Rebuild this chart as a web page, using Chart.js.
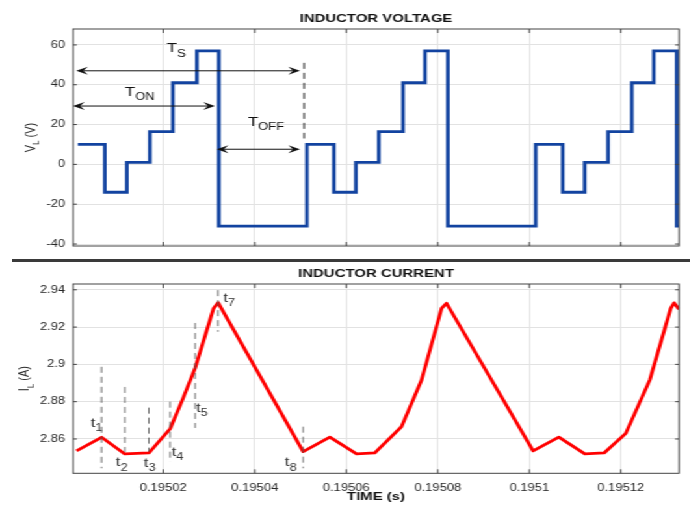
<!DOCTYPE html>
<html>
<head>
<meta charset="utf-8">
<script src="https://cdn.jsdelivr.net/npm/chart.js@4.4.0/dist/chart.umd.min.js"></script>
<style>
  body { margin: 0; background: #fff; width: 690px; height: 510px; overflow: hidden; position: relative; }
  /* the reference is stretched sideways, so the charts are drawn narrow and widened */
  #wrap { position: absolute; left: 0; top: 0; width: 531px; height: 510px; transform: scaleX(1.3); transform-origin: 0 0; }
  #topBox { position: absolute; left: 0; top: 0; width: 531px; height: 258px; }
  #botBox { position: absolute; left: 0; top: 262px; width: 531px; height: 248px; }
  #sep { position: absolute; left: 12px; top: 259px; width: 678px; height: 3px; background: #3a3a3a; }
</style>
</head>
<body>
<div id="wrap">
  <div id="topBox"><canvas id="vChart"></canvas></div>
  <div id="botBox"><canvas id="iChart"></canvas></div>
</div>
<div id="sep"></div>
<script>
// axis ticks
const timeTicks = [0.19502, 0.19504, 0.19506, 0.19508, 0.1951, 0.19512];
const voltTicks = [-40, -20, 0, 20, 40, 60];
const currTicks = [2.86, 2.88, 2.9, 2.92, 2.94];
const timeMin = 0.1950003, timeMax = 0.1951327;

// inductor voltage, each level holds until the next time
const vTime = [0.19500135, 0.19500725, 0.19501206, 0.19501709, 0.19502211, 0.19502735, 0.19503216,
               0.1950514, 0.1950573, 0.1950621, 0.1950671, 0.1950724, 0.1950772, 0.1950822,
               0.1951014, 0.1951073, 0.1951121, 0.1951172, 0.1951224, 0.1951272, 0.1951322, 0.1951327];
const vLevel = [10, -14, 1, 16.5, 41, 57, -31,
                10, -14, 1, 16.5, 41, 57, -31,
                10, -14, 1, 16.5, 41, 57, -31, -31];

// inductor current
const iTime = [0.19500107, 0.19500653, 0.19501162, 0.19501687, 0.19502152, 0.1950242, 0.19502698, 0.195031, 0.195032,
               0.19505058, 0.19505641, 0.19506225, 0.19506624, 0.19507208, 0.19507645, 0.19508082, 0.1950819,
               0.19510083, 0.19510645, 0.19511213, 0.19511634, 0.19512108, 0.19512633, 0.1951309, 0.19513164, 0.1951327];
const iAmp = [2.8536, 2.8609, 2.852, 2.8525, 2.8655, 2.881, 2.898, 2.93, 2.9331,
              2.8532, 2.861, 2.852, 2.8525, 2.8666, 2.8916, 2.93, 2.9328,
              2.8536, 2.861, 2.852, 2.8525, 2.863, 2.8917, 2.93, 2.933, 2.9295];

// period arrows on the voltage plot: start, end, level
const tsArrow = [0.195001, 0.1950499, 47];
const tonArrow = [0.1950003, 0.1950313, 29.3];
const toffArrow = [0.1950317, 0.1950499, 7.6];
const tsDash = [0.1950508, 13, 51];
const periodNames = [['T', 'S'], ['T', 'ON'], ['T', 'OFF']];
const periodLabelTime = [0.1950208, 0.1950116, 0.1950385];
const periodLabelVolt = [56.2, 34.3, 19.4];

// instants marked on the current plot
const markNames = ['1', '2', '3', '4', '5', '7', '8'];
const markTime = [0.19500653, 0.19501162, 0.19501687, 0.19502152, 0.19502698, 0.195032, 0.19505058];
const markTop = [2.8987, 2.8879, 2.8768, 2.88, 2.9222, 2.9398, 2.8666];
const markBottom = [2.8443, 2.853, 2.8532, 2.8478, 2.8659, 2.9175, 2.8443];
const markLabelTime = [0.19500413, 0.19500966, 0.19501577, 0.19502183, 0.19502714, 0.1950331, 0.19504658];
const markLabelAmp = [2.8664, 2.8453, 2.845, 2.8509, 2.8747, 2.9337, 2.8453];

const FONT = '"Liberation Sans", Arial, sans-serif';
Chart.defaults.font.family = FONT;

function fmt(v) { return String(+v.toFixed(5)); }

function drawSub(ctx, x, y, main, sub, rest, size, color, align) {
  const big = size + 'px ' + FONT;
  const small = Math.round(size * 0.76) + 'px ' + FONT;
  ctx.font = big;
  const w1 = ctx.measureText(main).width;
  const w3 = rest ? ctx.measureText(rest).width : 0;
  ctx.font = small;
  const w2 = ctx.measureText(sub).width;
  const left = align === 'center' ? x - (w1 + w2 + w3) / 2 : x;
  ctx.fillStyle = color;
  ctx.textAlign = 'left';
  ctx.textBaseline = 'alphabetic';
  ctx.font = big;
  ctx.fillText(main, left, y);
  ctx.font = small;
  ctx.fillText(sub, left + w1, y + size * 0.33);
  if (rest) {
    ctx.font = big;
    ctx.fillText(rest, left + w1 + w2, y);
  }
}

function arrowHead(ctx, x, y, dir) {
  const L = 9, H = 4;
  ctx.beginPath();
  ctx.moveTo(x, y);
  ctx.lineTo(x - dir * L, y - H);
  ctx.lineTo(x - dir * L * 0.6, y);
  ctx.lineTo(x - dir * L, y + H);
  ctx.closePath();
  ctx.fill();
}

// box round the plot with inward ticks, the title over the plot and the rotated y title
const matlabBox = {
  id: 'matlabBox',
  afterDraw(chart, args, opts) {
    const {ctx, chartArea: a, scales} = chart;
    ctx.save();
    ctx.strokeStyle = '#444';
    ctx.lineWidth = 1;
    ctx.strokeRect(a.left, a.top, a.right - a.left, a.bottom - a.top);
    ctx.beginPath();
    scales.x.ticks.forEach(t => {
      const px = scales.x.getPixelForValue(t.value);
      ctx.moveTo(px, a.top); ctx.lineTo(px, a.top + 4);
      ctx.moveTo(px, a.bottom); ctx.lineTo(px, a.bottom - 4);
    });
    scales.y.ticks.forEach(t => {
      const py = scales.y.getPixelForValue(t.value);
      ctx.moveTo(a.left, py); ctx.lineTo(a.left + 3, py);
      ctx.moveTo(a.right, py); ctx.lineTo(a.right - 3, py);
    });
    ctx.stroke();

    ctx.font = 'bold 11.5px ' + FONT;
    ctx.fillStyle = '#111';
    ctx.textAlign = 'center';
    ctx.textBaseline = 'middle';
    ctx.fillText(opts.title, (a.left + a.right) / 2, a.top - 10);

    ctx.translate(opts.x, (a.top + a.bottom) / 2);
    ctx.rotate(-Math.PI / 2);
    drawSub(ctx, 0, 0, opts.main, opts.sub, opts.rest, 11, '#262626', 'center');
    ctx.restore();
  }
};

const voltNotes = {
  id: 'voltNotes',
  afterDatasetsDraw(chart) {
    const {ctx, scales: {x, y}} = chart;
    ctx.save();
    ctx.strokeStyle = '#111';
    ctx.fillStyle = '#111';
    ctx.lineWidth = 1;
    [tsArrow, tonArrow, toffArrow].forEach(arr => {
      const x0 = x.getPixelForValue(arr[0]), x1 = x.getPixelForValue(arr[1]), py = y.getPixelForValue(arr[2]);
      ctx.beginPath();
      ctx.moveTo(x0 + 4, py); ctx.lineTo(x1 - 4, py);
      ctx.stroke();
      arrowHead(ctx, x0, py, -1);
      arrowHead(ctx, x1, py, 1);
    });
    ctx.setLineDash([6, 4]);
    ctx.lineWidth = 0.9;
    ctx.strokeStyle = '#000';
    ctx.beginPath();
    const dx = x.getPixelForValue(tsDash[0]);
    ctx.moveTo(dx, y.getPixelForValue(tsDash[2]));
    ctx.lineTo(dx, y.getPixelForValue(tsDash[1]));
    ctx.stroke();
    ctx.setLineDash([]);
    periodNames.forEach((n, i) => {
      drawSub(ctx, x.getPixelForValue(periodLabelTime[i]), y.getPixelForValue(periodLabelVolt[i]),
              n[0], n[1], '', 13, '#111', 'left');
    });
    ctx.restore();
  }
};

const currentNotes = {
  id: 'currentNotes',
  afterDatasetsDraw(chart) {
    const {ctx, scales: {x, y}} = chart;
    ctx.save();
    ctx.strokeStyle = '#555';
    ctx.lineWidth = 0.85;
    ctx.setLineDash([6, 4]);
    markNames.forEach((n, i) => {
      const px = x.getPixelForValue(markTime[i]);
      ctx.beginPath();
      ctx.moveTo(px, y.getPixelForValue(markTop[i]));
      ctx.lineTo(px, y.getPixelForValue(markBottom[i]));
      ctx.stroke();
    });
    ctx.setLineDash([]);
    markNames.forEach((n, i) => {
      drawSub(ctx, x.getPixelForValue(markLabelTime[i]), y.getPixelForValue(markLabelAmp[i]),
              't', n, '', 13, '#333', 'left');
    });
    ctx.restore();
  }
};

function axisTicks(list) {
  return scale => { scale.ticks = list.map(v => ({value: v})); };
}

const gridOpts = {color: '#e2e2e2', lineWidth: 1, drawTicks: false};
const tickFont = {size: 10};

new Chart(document.getElementById('vChart'), {
  type: 'line',
  data: {
    datasets: [{
      data: vTime.map((t, i) => ({x: t, y: vLevel[i]})),
      stepped: true,
      borderColor: '#1243a0',
      borderWidth: 2.8,
      pointRadius: 0,
      fill: false
    }]
  },
  options: {
    responsive: true,
    maintainAspectRatio: false,
    animation: false,
    layout: {padding: {left: 0, right: 8.7, top: 29, bottom: 0}},
    plugins: {
      legend: {display: false},
      tooltip: {enabled: false},
      matlabBox: {title: 'INDUCTOR VOLTAGE', x: 26.5, main: 'V', sub: 'L', rest: ' (V)'}
    },
    scales: {
      x: {
        type: 'linear', min: timeMin, max: timeMax,
        afterBuildTicks: axisTicks(timeTicks),
        afterFit: s => { s.height = 10; },
        ticks: {display: false},
        grid: gridOpts,
        border: {display: false}
      },
      y: {
        min: -41, max: 68,
        afterBuildTicks: axisTicks(voltTicks),
        afterFit: s => { s.width = 56.15; },
        ticks: {font: tickFont, color: '#262626', padding: 6, callback: fmt},
        grid: gridOpts,
        border: {display: false}
      }
    }
  },
  plugins: [matlabBox, voltNotes]
});

new Chart(document.getElementById('iChart'), {
  type: 'line',
  data: {
    datasets: [{
      data: iTime.map((t, i) => ({x: t, y: iAmp[i]})),
      borderColor: '#ff0000',
      borderWidth: 2.8,
      borderJoinStyle: 'round',
      pointRadius: 0,
      tension: 0,
      fill: false
    }]
  },
  options: {
    responsive: true,
    maintainAspectRatio: false,
    animation: false,
    layout: {padding: {left: 0, right: 8.7, top: 22, bottom: 0}},
    plugins: {
      legend: {display: false},
      tooltip: {enabled: false},
      matlabBox: {title: 'INDUCTOR CURRENT', x: 21.9, main: 'I', sub: 'L', rest: ' (A)'}
    },
    scales: {
      x: {
        type: 'linear', min: timeMin, max: timeMax,
        afterBuildTicks: axisTicks(timeTicks),
        afterFit: s => { s.height = 36.7; },
        ticks: {font: tickFont, color: '#262626', padding: 9, maxRotation: 0, callback: fmt},
        grid: gridOpts,
        border: {display: false},
        title: {
          display: true, text: 'TIME (s)', color: '#111',
          font: {size: 11.5, weight: 'bold'}, padding: {top: 0, bottom: 6}
        }
      },
      y: {
        min: 2.8416, max: 2.9431,
        afterBuildTicks: axisTicks(currTicks),
        afterFit: s => { s.width = 56.15; },
        ticks: {font: tickFont, color: '#262626', padding: 6, callback: fmt},
        grid: gridOpts,
        border: {display: false}
      }
    }
  },
  plugins: [matlabBox, currentNotes]
});
</script>
</body>
</html>
